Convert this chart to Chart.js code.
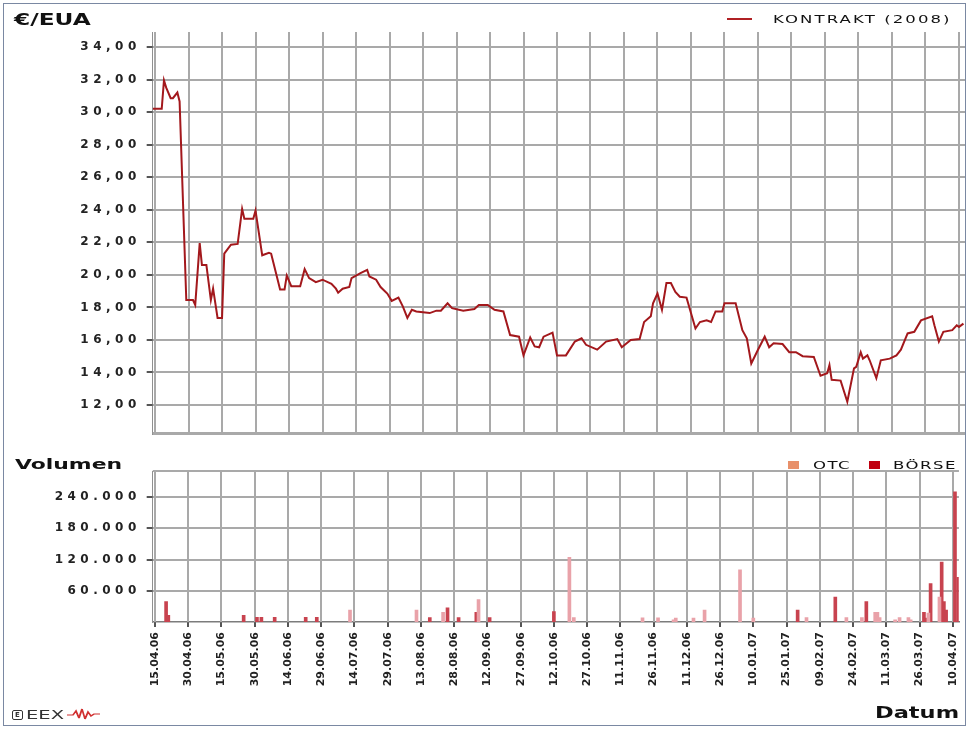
<!DOCTYPE html>
<html>
<head>
<meta charset="utf-8">
<script src="https://cdn.jsdelivr.net/npm/chart.js@4"></script>
<style>
  html, body { margin: 0; padding: 0; background: #fff; overflow: hidden; }
  #stage { position: absolute; left: 0; top: 0; width: 971px; height: 729px; font-family: "DejaVu Sans", sans-serif; color: #111; }
  #price { position: absolute; left: 0; top: 0; }
  #volume { position: absolute; left: 0; top: 450px; }
  #frame {
    position: absolute; left: 3px; top: 3px; width: 963px; height: 723px;
    border-style: solid; border-color: #7a88a2; border-width: 1px 1.5px;
    box-sizing: border-box; pointer-events: none;
  }
  /* the source chart's lettering is stretched wide */
  .lbl { position: absolute; white-space: nowrap; line-height: 1; transform: scaleX(1.5); transform-origin: 0 0; }
  .sq { position: absolute; width: 11px; height: 8px; }
</style>
</head>
<body>
<div id="stage">
  <canvas id="price" width="971" height="450"></canvas>
  <canvas id="volume" width="971" height="279"></canvas>

  <div class="lbl" style="left:14px; top:12.5px; font-size:15.5px; font-weight:bold;">€/EUA</div>
  <div style="position:absolute; left:727px; top:18px; width:25px; height:2px; background:#b02024;"></div>
  <div class="lbl" style="left:773px; top:13.7px; font-size:11px; letter-spacing:1.4px;">KONTRAKT (2008)</div>

  <div class="lbl" style="left:15px; top:456.6px; font-size:14.6px; font-weight:bold;">Volumen</div>
  <div class="sq" style="left:788px; top:461px; background:#e8906a;"></div>
  <div class="lbl" style="left:813px; top:459.5px; font-size:11px; letter-spacing:1px;">OTC</div>
  <div class="sq" style="left:869px; top:461px; background:#c00010;"></div>
  <div class="lbl" style="left:893px; top:459.5px; font-size:11px; letter-spacing:1px;">BÖRSE</div>

  <div class="lbl" style="left:875px; top:705.5px; font-size:15px; font-weight:bold;">Datum</div>

  <div style="position:absolute; left:12px; top:710px; width:11px; height:10px; border:1.3px solid #333; border-radius:2px; box-sizing:border-box; font-size:7px; font-weight:bold; line-height:8px; text-align:center; color:#333;">E</div>
  <div class="lbl" style="left:26px; top:707.5px; font-size:13px; color:#333;">EEX</div>
  <svg style="position:absolute; left:67px; top:707px; width:33px; height:14px;" viewBox="0 0 22 14" preserveAspectRatio="none">
    <polyline points="0,8 4,8 6,4 8,11 10,2 12,12 14,5 16,9 18,7 22,7" fill="none" stroke="#d03030" stroke-width="1.2"/>
  </svg>

  <div id="frame"></div>
</div>

<script>
const dateLabels = ['15.04.06', '30.04.06', '15.05.06', '30.05.06', '14.06.06', '29.06.06',
  '14.07.06', '29.07.06', '13.08.06', '28.08.06', '12.09.06', '27.09.06', '12.10.06',
  '27.10.06', '11.11.06', '26.11.06', '11.12.06', '26.12.06', '10.01.07', '25.01.07',
  '09.02.07', '24.02.07', '11.03.07', '26.03.07', '10.04.07'];
const tickDays = dateLabels.map((_, i) => i * 15);

const priceTicks = [12, 14, 16, 18, 20, 22, 24, 26, 28, 30, 32, 34];
const volumeTicks = [60000, 120000, 180000, 240000];

// days since 15.04.06
const priceDays = [-1, 3, 4, 5, 7, 8, 10, 11, 14, 17,
  18, 20, 21, 23, 25, 26, 28, 30, 31, 34,
  37, 39, 40, 44, 45, 48, 51, 52, 56, 58,
  59, 61, 65, 67, 69, 72, 75, 79, 81, 82,
  84, 87, 88, 92, 95, 96, 99, 101, 104, 106,
  109, 111, 113, 115, 117, 123, 126, 128, 131, 133,
  138, 143, 145, 149, 152, 156, 159, 163, 165, 168,
  170, 172, 174, 178, 180, 184, 188, 191, 193, 198,
  202, 207, 209, 213, 217, 219, 222, 223, 225, 227,
  229, 231, 233, 235, 238, 242, 244, 247, 249, 251,
  254, 255, 260, 263, 265, 267, 270, 273, 275, 277,
  281, 284, 287, 290, 295, 298, 301, 302, 303, 307,
  310, 313, 314, 316, 317, 319, 320, 323, 325, 329,
  332, 334, 337, 340, 343, 348, 349, 351, 353, 357,
  359, 360, 362];
const priceValues = [30.2, 30.2, 31.95, 31.5, 30.85, 30.85, 31.2, 30.65, 18.45, 18.45,
  18.15, 21.95, 20.6, 20.6, 18.45, 19.15, 17.35, 17.35, 21.3, 21.85,
  21.9, 24.05, 23.45, 23.45, 23.95, 21.2, 21.35, 21.3, 19.1, 19.1,
  19.95, 19.3, 19.3, 20.35, 19.8, 19.55, 19.7, 19.45, 19.15, 18.9,
  19.15, 19.25, 19.8, 20.1, 20.3, 19.9, 19.7, 19.25, 18.85, 18.4,
  18.6, 18.05, 17.35, 17.85, 17.75, 17.65, 17.8, 17.8, 18.25, 17.95,
  17.8, 17.9, 18.15, 18.15, 17.85, 17.75, 16.3, 16.2, 15.05, 16.15,
  15.6, 15.55, 16.2, 16.45, 15.05, 15.05, 15.9, 16.1, 15.7, 15.4,
  15.9, 16.05, 15.55, 16.0, 16.05, 17.1, 17.45, 18.25, 18.85, 17.85,
  19.5, 19.5, 18.95, 18.65, 18.6, 16.7, 17.1, 17.2, 17.1, 17.75,
  17.75, 18.25, 18.25, 16.6, 16.1, 14.55, 15.4, 16.2, 15.55, 15.8,
  15.75, 15.25, 15.25, 15.0, 14.95, 13.8, 13.95, 14.45, 13.55, 13.5,
  12.2, 14.25, 14.35, 15.25, 14.85, 15.05, 14.75, 13.65, 14.75, 14.85,
  15.05, 15.4, 16.4, 16.5, 17.2, 17.45, 16.9, 15.9, 16.5, 16.6,
  16.9, 16.8, 17.0];

const otcDays = [88, 118, 130, 146, 187, 189, 220, 227, 234, 235,
  243, 248, 264, 270, 294, 312, 319, 325, 326, 327,
  334, 336, 340, 341, 349, 354];
const otcVolumes = [23000, 23000, 18500, 43000, 124000, 8500, 8000, 8000, 4000, 7500,
  7500, 23000, 100000, 7500, 8500, 8500, 8500, 18500, 18500, 8500,
  4000, 8500, 8500, 4000, 17000, 48000];

const boerseDays = [5, 6, 40, 46, 48, 54, 68, 73, 124, 132,
  137, 145, 151, 180, 290, 307, 321, 347, 348, 350,
  355, 356, 357, 361, 362.5];
const boerseVolumes = [39000, 13000, 13000, 9000, 9000, 9000, 9000, 9000, 8500, 27000,
  8500, 18500, 8500, 20000, 23000, 48000, 39000, 18500, 7500, 74000,
  115000, 39000, 23000, 250000, 86000];

const xMin = -1, xMax = 362.7;
const volMax = 290000;
const plotLeft = 152.8;
const padRight = 971 - 965;
const gridColor = '#a9a9a9';
const yFont = { family: 'DejaVu Sans', size: 12, weight: 'bold' };
const xFont = { family: 'DejaVu Sans', size: 11, weight: 'bold' };

const toPoints = (xs, ys) => xs.map((x, i) => ({ x, y: ys[i] }));
const fmtPrice = v => v.toFixed(2).replace('.', ',');
const fmtVol = v => (v / 1000) + '.000';

// y labels are drawn after the datasets (ticks.z = 1) with wide letter spacing
const spacing = {
  id: 'spacing',
  beforeDraw(chart) { chart.ctx.letterSpacing = '0px'; },
  afterDatasetsDraw(chart) { chart.ctx.letterSpacing = '4.5px'; }
};

// grid lines and tick marks at the scales' own tick positions
const gridLines = {
  id: 'gridLines',
  beforeDatasetsDraw(chart, args, opts) {
    const { ctx, chartArea: a } = chart;
    const xs = chart.scales.x, ys = chart.scales.y;
    ctx.save();
    ctx.globalAlpha = 1;
    ctx.globalCompositeOperation = 'source-over';
    ctx.setLineDash([]);
    ctx.lineWidth = 2;
    ctx.strokeStyle = gridColor;
    ctx.beginPath();
    xs.ticks.forEach(t => {
      const p = Math.round(xs.getPixelForValue(t.value));
      ctx.moveTo(p, a.top); ctx.lineTo(p, a.bottom);
    });
    ys.ticks.forEach(t => {
      const p = Math.round(ys.getPixelForValue(t.value));
      ctx.moveTo(a.left, p); ctx.lineTo(a.right, p);
    });
    if (opts.bottomLine) {
      const p = Math.round(a.bottom) - 1;
      ctx.moveTo(a.left, p); ctx.lineTo(a.right, p);
    }
    ctx.stroke();

    ctx.lineWidth = 1.5;
    ctx.strokeStyle = '#555';
    ctx.beginPath();
    ys.ticks.forEach(t => {
      if (!opts.yMarks.includes(t.value)) return;
      const p = Math.round(ys.getPixelForValue(t.value));
      ctx.moveTo(a.left - 6, p); ctx.lineTo(a.left, p);
    });
    if (opts.xMarks) {
      xs.ticks.forEach(t => {
        const p = Math.round(xs.getPixelForValue(t.value));
        ctx.moveTo(p, a.bottom); ctx.lineTo(p, a.bottom + 5);
      });
    }
    ctx.stroke();
    ctx.restore();
  }
};

new Chart(document.getElementById('price'), {
  type: 'line',
  data: {
    datasets: [{
      label: 'KONTRAKT (2008)',
      data: toPoints(priceDays, priceValues),
      borderColor: '#a3181c',
      borderWidth: 2,
      pointRadius: 0,
      tension: 0
    }]
  },
  plugins: [spacing, gridLines],
  options: {
    responsive: false,
    animation: false,
    layout: { padding: { top: 32, right: padRight, left: 0, bottom: 0 } },
    plugins: {
      legend: { display: false }, tooltip: { enabled: false },
      gridLines: { yMarks: priceTicks, xMarks: false, bottomLine: true }
    },
    scales: {
      x: {
        type: 'linear', min: xMin, max: xMax,
        afterBuildTicks: s => { s.ticks = tickDays.map(v => ({ value: v })); },
        ticks: { display: false },
        grid: { color: gridColor, lineWidth: 2, drawTicks: false },
        border: { color: gridColor, width: 2 },
        afterFit: s => { s.height = 16; }
      },
      y: {
        min: 10.22, max: 34.92,
        afterBuildTicks: s => { s.ticks = priceTicks.map(v => ({ value: v })); },
        ticks: { font: yFont, color: '#222', padding: 6, z: 1, callback: v => fmtPrice(v) },
        grid: { color: gridColor, lineWidth: 2, tickLength: 6, tickColor: '#555' },
        border: { color: '#909090', width: 1 },
        afterFit: s => { s.width = plotLeft; }
      }
    }
  }
});

new Chart(document.getElementById('volume'), {
  type: 'bar',
  data: {
    datasets: [
      { label: 'OTC', data: toPoints(otcDays, otcVolumes), backgroundColor: '#e9a2a9', barThickness: 3, grouped: false },
      { label: 'BÖRSE', data: toPoints(boerseDays, boerseVolumes), backgroundColor: '#c8434f', barThickness: 3, grouped: false }
    ]
  },
  plugins: [spacing, gridLines],
  options: {
    responsive: false,
    animation: false,
    layout: { padding: { top: 21, right: padRight, left: 0, bottom: 0 } },
    plugins: {
      legend: { display: false }, tooltip: { enabled: false },
      gridLines: { yMarks: volumeTicks, xMarks: true, bottomLine: false }
    },
    scales: {
      x: {
        type: 'linear', min: xMin, max: xMax, offset: false,
        afterBuildTicks: s => { s.ticks = tickDays.map(v => ({ value: v })); },
        ticks: {
          autoSkip: false, maxRotation: 90, minRotation: 90,
          font: xFont, color: '#222', padding: 5,
          callback: v => dateLabels[Math.round(v / 15)]
        },
        grid: { offset: false, color: gridColor, lineWidth: 2, tickLength: 5, tickColor: '#555' },
        border: { color: '#7c7c7c', width: 1.5 },
        afterFit: s => { s.height = 107; }
      },
      y: {
        min: 0, max: volMax,
        afterBuildTicks: s => { s.ticks = volumeTicks.concat([volMax]).map(v => ({ value: v })); },
        ticks: { font: yFont, color: '#222', padding: 6, z: 1, callback: v => v === volMax ? '' : fmtVol(v) },
        grid: {
          color: gridColor, lineWidth: 2, tickLength: 6,
          tickColor: c => (c.tick && c.tick.value === volMax) ? 'rgba(0,0,0,0)' : '#555'
        },
        border: { color: '#909090', width: 1 },
        afterFit: s => { s.width = plotLeft; }
      }
    }
  }
});
</script>
</body>
</html>
